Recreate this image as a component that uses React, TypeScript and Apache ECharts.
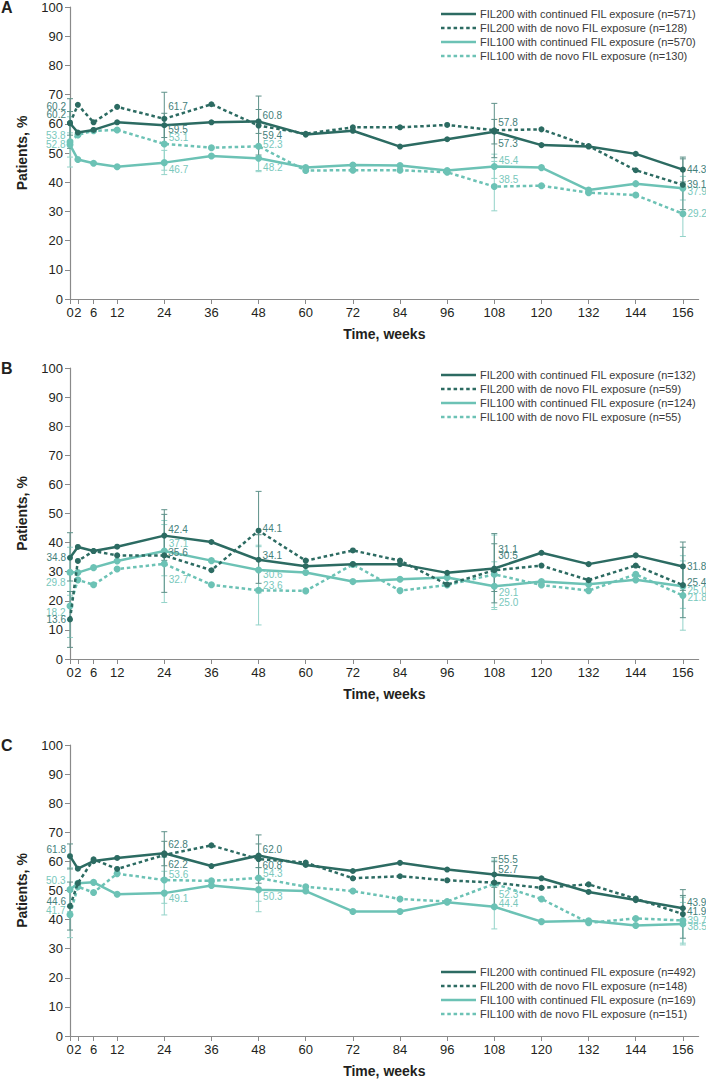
import React, { useEffect, useRef } from "react";
import * as echarts from "echarts";

const WEEKS = [0, 2, 6, 12, 24, 36, 48, 60, 72, 84, 96, 108, 120, 132, 144, 156];
const CI_WEEKS = [0, 24, 48, 108, 156];
const PANEL_LETTERS = ["A", "B", "C"];
const SERIES_NAMES = [
  "FIL200 with continued FIL exposure",
  "FIL200 with de novo FIL exposure",
  "FIL100 with continued FIL exposure",
  "FIL100 with de novo FIL exposure",
];
const N_A = [571, 128, 570, 130];
const N_B = [132, 59, 124, 55];
const N_C = [492, 148, 169, 151];

// Panel A
const A_200_CONT = [60.2, 57.0, 57.9, 60.5, 59.5, 60.5, 60.8, 56.3, 57.6, 52.2, 54.7, 57.3, 52.7, 52.2, 49.7, 44.3];
const A_200_NOVO = [60.2, 66.5, 60.5, 65.8, 61.7, 66.7, 59.4, 56.6, 58.8, 58.8, 59.6, 57.8, 58.1, 52.4, 44.1, 39.1];
const A_100_CONT = [52.8, 47.8, 46.5, 45.3, 46.7, 49.0, 48.2, 45.0, 45.9, 45.7, 44.0, 45.4, 45.0, 37.3, 39.5, 37.9];
const A_100_NOVO = [53.8, 56.2, 57.6, 57.9, 53.1, 51.8, 52.3, 44.0, 44.1, 44.1, 43.4, 38.5, 38.8, 36.4, 35.6, 29.2];
const A_LO = [
  [56.1, 55.3, 56.7, 53.1, 40.1],
  [51.6, 52.7, 49.3, 48.4, 30.6],
  [48.6, 42.6, 44.0, 41.3, 33.9],
  [45.2, 44.1, 43.6, 30.2, 21.4],
];
const A_HI = [
  [64.2, 63.6, 64.9, 61.5, 48.6],
  [68.6, 70.8, 69.5, 67.0, 48.0],
  [56.9, 50.9, 52.4, 49.6, 42.0],
  [62.4, 62.0, 61.0, 47.1, 37.5],
];

// Panel B
const B_200_CONT = [34.8, 38.5, 37.1, 38.6, 42.4, 40.2, 34.1, 31.9, 32.6, 32.6, 29.6, 31.1, 36.5, 32.6, 35.6, 31.8];
const B_200_NOVO = [13.6, 33.7, 37.1, 35.6, 35.6, 30.5, 44.1, 33.8, 37.3, 33.8, 25.6, 30.5, 32.1, 27.1, 32.1, 25.4];
const B_100_CONT = [29.8, 29.7, 31.4, 33.7, 37.1, 33.8, 30.6, 29.7, 26.6, 27.4, 28.0, 25.0, 26.6, 25.7, 27.2, 25.0];
const B_100_NOVO = [18.2, 27.2, 25.5, 30.9, 32.7, 25.5, 23.6, 23.4, 32.5, 23.5, 25.4, 29.1, 25.4, 23.5, 29.1, 21.8];
const B_LO = [
  [26.8, 33.9, 26.0, 23.2, 23.6],
  [4.0, 22.9, 30.6, 19.3, 14.2],
  [21.9, 28.6, 22.7, 17.7, 17.4],
  [7.4, 19.4, 11.7, 17.0, 9.9],
];
const B_HI = [
  [43.4, 51.3, 42.7, 39.6, 40.2],
  [23.2, 49.7, 57.6, 43.1, 38.4],
  [38.4, 46.2, 39.1, 33.4, 33.7],
  [29.0, 47.6, 38.6, 42.6, 35.5],
];

// Panel C
const C_200_CONT = [61.8, 57.5, 60.1, 61.2, 62.8, 58.4, 62.0, 58.8, 56.7, 59.5, 57.2, 55.5, 54.2, 49.5, 46.7, 43.9];
const C_200_NOVO = [44.6, 52.5, 60.7, 57.4, 62.2, 65.5, 60.8, 59.6, 54.2, 54.9, 53.5, 52.7, 50.9, 52.1, 47.2, 41.9];
const C_100_CONT = [50.3, 52.5, 52.8, 48.7, 49.1, 51.7, 50.3, 49.8, 42.8, 42.8, 46.0, 44.4, 39.3, 39.6, 38.0, 38.5];
const C_100_NOVO = [41.7, 51.3, 49.3, 55.8, 53.6, 53.3, 54.3, 51.3, 49.8, 47.1, 46.2, 52.3, 47.1, 38.9, 40.4, 39.7];
const C_LO = [
  [57.4, 58.5, 57.9, 51.1, 39.5],
  [36.4, 54.2, 52.5, 44.1, 33.6],
  [42.7, 41.6, 42.7, 36.8, 31.3],
  [33.8, 45.6, 46.3, 44.2, 31.9],
];
const C_HI = [
  [66.0, 66.9, 66.0, 59.9, 48.3],
  [52.9, 70.2, 69.1, 61.3, 50.3],
  [57.8, 56.6, 57.8, 52.0, 45.9],
  [49.7, 61.4, 62.2, 60.4, 47.7],
];

// Label vertical offsets (style only, px) for the labelled weeks
const DY_A = [[-9, 4, -6, 12, 0], [-17, -12, 10, -7.5, 0], [0, 7, 9, -6, 3], [-6, -6, -2, -7, 0]];
const DY_B = [[0, -6, -4, -19, 0], [0, -3, -2, -14.5, -3], [10, -8, 5, 16, 4], [6, 16, -5, 18, 2]];
const DY_C = [[-7, -9, -6, -14.5, -6], [-4.5, 10, 6.5, -13, -2.4], [-9, 5, 7, -3.5, 3], [-4, -6, -4, 11, 0]];

const DARK = "#2c6b62";
const LIGHT = "#6cc2b5";
const DARK_LABEL = "#44807a";
const LIGHT_LABEL = "#78c8bc";
const DARK_ERR = "#5e9189";
const LIGHT_ERR = "#93d3c9";
const FONT = "'Liberation Sans', Arial, Helvetica, sans-serif";
const DASH = [3.5, 2.8];

const STYLES = [
  { color: DARK, dash: false, label: DARK_LABEL, err: DARK_ERR },
  { color: DARK, dash: true, label: DARK_LABEL, err: DARK_ERR },
  { color: LIGHT, dash: false, label: LIGHT_LABEL, err: LIGHT_ERR },
  { color: LIGHT, dash: true, label: LIGHT_LABEL, err: LIGHT_ERR },
];

const GRIDS = [
  { top: 7, height: 292 },
  { top: 368, height: 291 },
  { top: 745, height: 291 },
];
const LEGEND_TOPS = [14, 375, 972];

const PANELS = [
  { values: [A_200_CONT, A_200_NOVO, A_100_CONT, A_100_NOVO], lo: A_LO, hi: A_HI, n: N_A, dy: DY_A },
  { values: [B_200_CONT, B_200_NOVO, B_100_CONT, B_100_NOVO], lo: B_LO, hi: B_HI, n: N_B, dy: DY_B },
  { values: [C_200_CONT, C_200_NOVO, C_100_CONT, C_100_NOVO], lo: C_LO, hi: C_HI, n: N_C, dy: DY_C },
];

function buildOption() {
  const grid: any[] = [];
  const xAxis: any[] = [];
  const yAxis: any[] = [];
  const series: any[] = [];
  const graphic: any[] = [];

  PANELS.forEach((panel, p) => {
    grid.push({ left: 70, top: GRIDS[p].top, width: 628.6, height: GRIDS[p].height });
    xAxis.push({
      type: "value",
      gridIndex: p,
      min: 0,
      max: 160,
      name: "Time, weeks",
      nameLocation: "middle",
      nameGap: 28,
      nameTextStyle: { fontFamily: FONT, fontSize: 14, fontWeight: "bold", color: "#231f20" },
      axisLine: { lineStyle: { color: "#8a8a8a", width: 1.2 } },
      axisTick: { show: true, customValues: WEEKS, length: 5, lineStyle: { color: "#8a8a8a" } },
      axisLabel: { customValues: WEEKS, margin: 7, fontFamily: FONT, fontSize: 13, color: "#231f20" },
      splitLine: { show: false },
    });
    yAxis.push({
      type: "value",
      gridIndex: p,
      min: 0,
      max: 100,
      interval: 10,
      name: "Patients, %",
      nameLocation: "middle",
      nameGap: 41,
      nameTextStyle: { fontFamily: FONT, fontSize: 14, fontWeight: "bold", color: "#231f20" },
      axisLine: { show: true, lineStyle: { color: "#8a8a8a", width: 1.2 } },
      axisTick: { show: true, length: 5, lineStyle: { color: "#8a8a8a" } },
      axisLabel: { margin: 7, fontFamily: FONT, fontSize: 13, color: "#231f20" },
      splitLine: { show: false },
    });

    // error bars
    [2, 3, 0, 1].forEach((s) => {
      const st = STYLES[s];
      series.push({
        type: "custom",
        xAxisIndex: p,
        yAxisIndex: p,
        silent: true,
        clip: false,
        z: 1,
        data: CI_WEEKS.map((w, i) => [w, panel.lo[s][i], panel.hi[s][i]]),
        encode: { x: 0, y: [1, 2] },
        renderItem: (params: any, api: any) => {
          const x = api.value(0);
          const pl = api.coord([x, api.value(1)]);
          const ph = api.coord([x, api.value(2)]);
          const cw = 3;
          const style = { stroke: st.err, lineWidth: 1 };
          return {
            type: "group",
            children: [
              { type: "line", shape: { x1: pl[0], y1: pl[1], x2: ph[0], y2: ph[1] }, style },
              { type: "line", shape: { x1: pl[0] - cw, y1: pl[1], x2: pl[0] + cw, y2: pl[1] }, style },
              { type: "line", shape: { x1: ph[0] - cw, y1: ph[1], x2: ph[0] + cw, y2: ph[1] }, style },
            ],
          };
        },
      });
    });

    // lines
    [2, 3, 0, 1].forEach((s) => {
      const st = STYLES[s];
      const vals = panel.values[s];
      const data = WEEKS.map((w, i) => {
        const li = CI_WEEKS.indexOf(w);
        const v = vals[i];
        if (li >= 0) {
          return {
            value: [w, v],
            label: {
              show: true,
              position: w === 0 ? "left" : "right",
              distance: 1,
              offset: [0, panel.dy[s][li]],
              formatter: v.toFixed(1),
              color: st.label,
              fontFamily: FONT,
              fontSize: 10,
            },
          };
        }
        return [w, v];
      });
      series.push({
        type: "line",
        name: SERIES_NAMES[s],
        xAxisIndex: p,
        yAxisIndex: p,
        data,
        symbol: "circle",
        symbolSize: s >= 2 ? 7 : 6,
        z: s >= 2 ? 3 : 4,
        clip: false,
        lineStyle: { color: st.color, width: 2.5, type: st.dash ? DASH : "solid" },
        itemStyle: { color: st.color },
        label: { show: false },
      });
    });

    // panel letter
    graphic.push({
      type: "text",
      x: 1,
      y: GRIDS[p].top,
      style: {
        text: PANEL_LETTERS[p],
        fill: "#231f20",
        fontFamily: FONT,
        fontSize: 16,
        fontWeight: "bold",
        verticalAlign: "middle",
        align: "left",
      },
    });

    // legend
    SERIES_NAMES.forEach((name, s) => {
      const st = STYLES[s];
      const y = LEGEND_TOPS[p] + s * 14;
      graphic.push({
        type: "line",
        shape: { x1: 441, y1: y, x2: 476, y2: y },
        style: { stroke: st.color, lineWidth: 2.5, lineDash: st.dash ? DASH : null },
      });
      graphic.push({
        type: "text",
        x: 480,
        y,
        style: {
          text: `${name} (n=${panel.n[s]})`,
          fill: "#3a3a3a",
          fontFamily: FONT,
          fontSize: 11,
          verticalAlign: "middle",
          align: "left",
        },
      });
    });
  });

  return {
    animation: false,
    backgroundColor: "#ffffff",
    grid,
    xAxis,
    yAxis,
    series,
    graphic,
  };
}

export default function App() {
  const ref = useRef<HTMLDivElement>(null);
  useEffect(() => {
    if (!ref.current) return;
    const chart = echarts.init(ref.current, null, { renderer: "svg" });
    chart.setOption(buildOption());
    return () => chart.dispose();
  }, []);
  return (
    <div
      ref={ref}
      style={{ position: "absolute", left: 0, top: 0, width: 706, height: 1079, background: "#fff" }}
    />
  );
}
